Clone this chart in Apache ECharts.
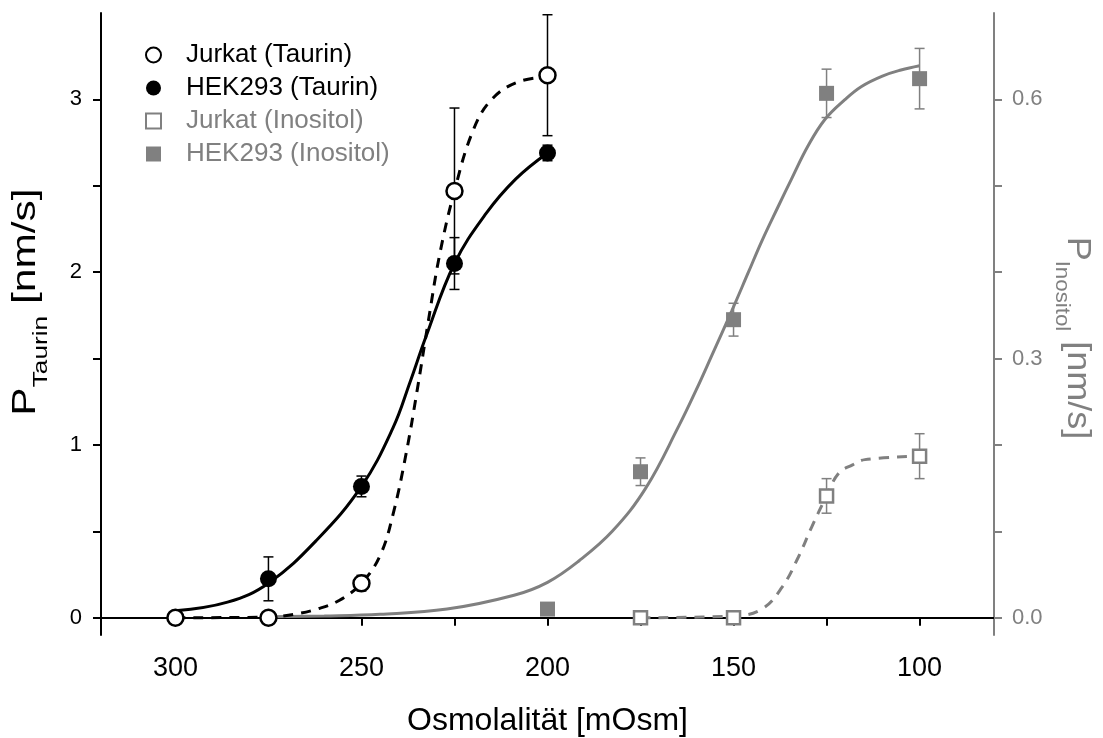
<!DOCTYPE html>
<html>
<head>
<meta charset="utf-8">
<script src="https://cdn.jsdelivr.net/npm/echarts@6/dist/echarts.min.js"></script>
<style>
  html, body { margin: 0; padding: 0; background: #fff; }
  #chart { width: 1103px; height: 738px; }
</style>
</head>
<body>
<div id="chart"></div>
<script>
// Osmolality steps (mOsm) and permeability values
const xTickValues = [100, 125, 150, 175, 200, 225, 250, 275, 300];
const xLabelValues = [100, 150, 200, 250, 300];
const yLeftTicks = [0, 0.5, 1, 1.5, 2, 2.5, 3];
const yLeftLabels = [0, 1, 2, 3];
const yRightTicks = [0, 0.1, 0.2, 0.3, 0.4, 0.5, 0.6];
const yRightLabels = [0, 0.3, 0.6];

// Taurin (left axis, nm/s)
const jurkatTaurinX = [300, 275, 250, 225, 200];
const jurkatTaurinY = [0, 0, 0.20, 2.47, 3.14];
const jurkatTaurinErr = [0, 0, 0.045, 0.48, 0.35];
const hekTaurinX = [300, 275, 250, 225, 200];
const hekTaurinY = [0, 0.225, 0.76, 2.05, 2.69];
const hekTaurinErr = [0, 0.127, 0.06, 0.15, 0.045];

// Inositol (right axis, nm/s)
const jurkatInositolX = [175, 150, 125, 100];
const jurkatInositolY = [0, 0, 0.141, 0.187];
const jurkatInositolErr = [0, 0, 0.02, 0.026];
const hekInositolX = [200, 175, 150, 125, 100];
const hekInositolY = [0.010, 0.169, 0.345, 0.607, 0.624];
const hekInositolErr = [0, 0.016, 0.019, 0.028, 0.035];

// Fitted curves
const hekTaurinFitX = [300, 286, 275, 262, 250, 241.5, 237, 232.6, 225, 216.5, 208.5, 200];
const hekTaurinFitY = [0.04, 0.09, 0.20, 0.45, 0.76, 1.10, 1.36, 1.63, 2.05, 2.34, 2.54, 2.69];
const jurkatTaurinFitX = [300, 275, 268, 262, 256, 250, 245, 241.5, 238, 235, 232, 229, 225, 220, 215, 208, 200];
const jurkatTaurinFitY = [0, 0.003, 0.02, 0.05, 0.10, 0.20, 0.36, 0.60, 0.95, 1.32, 1.72, 2.10, 2.47, 2.82, 3.00, 3.10, 3.13];
const hekInositolFitX = [275, 260, 245, 227, 209, 200, 191.5, 182.6, 173.6, 164.7, 160, 155.8, 150.5, 146, 142.4, 138, 134.4, 130, 125.4, 120, 115.6, 110, 105, 100];
const hekInositolFitY = [0.001, 0.002, 0.004, 0.010, 0.026, 0.041, 0.066, 0.100, 0.150, 0.222, 0.264, 0.304, 0.355, 0.400, 0.436, 0.476, 0.508, 0.546, 0.577, 0.600, 0.615, 0.627, 0.634, 0.639];
const jurkatInositolFitX = [175, 150, 142.4, 137, 132.6, 129, 125, 121.8, 118, 114.7, 100];
const jurkatInositolFitY = [0, 0.002, 0.010, 0.035, 0.070, 0.105, 0.141, 0.167, 0.177, 0.183, 0.187];

const BLACK = '#000000';
const GRAY = '#808080';
const FONT = "'Liberation Sans', Arial, Helvetica, sans-serif";

const pairs = (xs, ys) => xs.map((x, i) => [x, ys[i]]);
const errRows = (xs, ys, es) => xs.map((x, i) => [x, ys[i] - es[i], ys[i] + es[i]]).filter((r, i) => es[i] > 0);

function errorBars(color) {
  return function (params, api) {
    const x = api.value(0);
    const lo = api.coord([x, api.value(1)]);
    const hi = api.coord([x, api.value(2)]);
    const half = 5;
    const st = { stroke: color, lineWidth: 1.5 };
    return {
      type: 'group',
      children: [
        { type: 'line', shape: { x1: hi[0], y1: hi[1], x2: lo[0], y2: lo[1] }, style: st },
        { type: 'line', shape: { x1: hi[0] - half, y1: hi[1], x2: hi[0] + half, y2: hi[1] }, style: st },
        { type: 'line', shape: { x1: lo[0] - half, y1: lo[1], x2: lo[0] + half, y2: lo[1] }, style: st }
      ]
    };
  };
}

function axisTitle(main, sub, color) {
  return {
    text: '{p|' + main + '}{s|' + sub + '}{p| [nm/s]}',
    fill: color, align: 'center', verticalAlign: 'middle',
    rich: {
      p: { fontSize: 34, fontFamily: FONT, fill: color, verticalAlign: 'top' },
      s: { fontSize: 21, fontFamily: FONT, fill: color, verticalAlign: 'top', padding: [22, 0, 0, 0] }
    }
  };
}

const chart = echarts.init(document.getElementById('chart'), null, { renderer: 'canvas' });

const option = {
  animation: false,
  backgroundColor: '#ffffff',
  textStyle: { fontFamily: FONT },
  grid: { left: 101, right: 109, top: 13, bottom: 103, containLabel: false, outerBoundsMode: 'none' },
  legend: {
    orient: 'vertical',
    left: 140,
    top: 37,
    itemWidth: 15,
    itemHeight: 15,
    itemGap: 7,
    textStyle: { fontSize: 26, fontFamily: FONT, padding: [0, 0, 0, 20] },
    data: [
      { name: 'Jurkat (Taurin)', textStyle: { color: BLACK } },
      { name: 'HEK293 (Taurin)', textStyle: { color: BLACK } },
      { name: 'Jurkat (Inositol)', textStyle: { color: GRAY } },
      { name: 'HEK293 (Inositol)', textStyle: { color: GRAY } }
    ]
  },
  xAxis: [
    {
      type: 'value', position: 'bottom', min: 80, max: 320, inverse: true,
      name: 'Osmolalität [mOsm]', nameLocation: 'middle', nameGap: 70,
      nameTextStyle: { fontSize: 32, color: BLACK, fontFamily: FONT },
      axisLine: { show: true, lineStyle: { color: BLACK, width: 2 } },
      axisTick: { show: true, inside: false, length: 8, customValues: xTickValues, lineStyle: { color: BLACK, width: 2 } },
      axisLabel: { show: true, customValues: xLabelValues, fontSize: 27, color: BLACK, margin: 20, fontFamily: FONT },
      splitLine: { show: false }
    },
    {
      type: 'value', position: 'top', min: 80, max: 320, inverse: true,
      axisLine: { show: true, lineStyle: { color: BLACK, width: 2 } },
      axisTick: { show: true, inside: true, length: 6, customValues: xTickValues, lineStyle: { color: BLACK, width: 1.5 } },
      axisLabel: { show: false },
      splitLine: { show: false }
    }
  ],
  yAxis: [
    {
      type: 'value', position: 'left', min: -0.1, max: 3.5,
      axisLine: { show: true, lineStyle: { color: BLACK, width: 2 } },
      axisTick: { show: true, inside: false, length: 8, customValues: yLeftTicks, lineStyle: { color: BLACK, width: 2 } },
      axisLabel: { show: true, customValues: yLeftLabels, fontSize: 22, color: BLACK, margin: 19, fontFamily: FONT,
        formatter: v => String(Math.round(v)) },
      splitLine: { show: false }
    },
    {
      type: 'value', position: 'right', min: -0.02, max: 0.7,
      axisLine: { show: true, lineStyle: { color: GRAY, width: 2 } },
      axisTick: { show: true, inside: false, length: 8, customValues: yRightTicks, lineStyle: { color: GRAY, width: 2 } },
      axisLabel: { show: true, customValues: yRightLabels, fontSize: 22, color: GRAY, margin: 18, fontFamily: FONT,
        formatter: v => v.toFixed(1) },
      splitLine: { show: false }
    }
  ],
  graphic: [
    { type: 'text', x: 30, y: 302, rotation: Math.PI / 2, scaleX: 1.25, style: axisTitle('P', 'Taurin', BLACK) },
    { type: 'text', x: 1073, y: 338, rotation: -Math.PI / 2, scaleX: 1.06, style: axisTitle('P', 'Inositol', GRAY) }
  ],
  series: [
    // fitted curves
    {
      name: 'fit HEK293 Inositol', type: 'line', xAxisIndex: 0, yAxisIndex: 1, z: 2,
      data: pairs(hekInositolFitX, hekInositolFitY), smooth: 0.4,
      showSymbol: false, lineStyle: { color: GRAY, width: 3 }
    },
    {
      name: 'fit Jurkat Inositol', type: 'line', xAxisIndex: 0, yAxisIndex: 1, z: 2,
      data: pairs(jurkatInositolFitX, jurkatInositolFitY), smooth: 0.4,
      showSymbol: false, lineStyle: { color: GRAY, width: 3, type: [10, 8] }
    },
    {
      name: 'fit HEK293 Taurin', type: 'line', xAxisIndex: 0, yAxisIndex: 0, z: 3,
      data: pairs(hekTaurinFitX, hekTaurinFitY), smooth: 0.4,
      showSymbol: false, lineStyle: { color: BLACK, width: 3 }
    },
    {
      name: 'fit Jurkat Taurin', type: 'line', xAxisIndex: 0, yAxisIndex: 0, z: 3,
      data: pairs(jurkatTaurinFitX, jurkatTaurinFitY), smooth: 0.4,
      showSymbol: false, lineStyle: { color: BLACK, width: 3, type: [10, 8] }
    },
    // error bars
    {
      name: 'err Jurkat Taurin', type: 'custom', xAxisIndex: 0, yAxisIndex: 0, z: 4,
      renderItem: errorBars(BLACK), encode: { x: 0, y: [1, 2] },
      data: errRows(jurkatTaurinX, jurkatTaurinY, jurkatTaurinErr)
    },
    {
      name: 'err HEK293 Taurin', type: 'custom', xAxisIndex: 0, yAxisIndex: 0, z: 4,
      renderItem: errorBars(BLACK), encode: { x: 0, y: [1, 2] },
      data: errRows(hekTaurinX, hekTaurinY, hekTaurinErr)
    },
    {
      name: 'err Jurkat Inositol', type: 'custom', xAxisIndex: 0, yAxisIndex: 1, z: 4,
      renderItem: errorBars(GRAY), encode: { x: 0, y: [1, 2] },
      data: errRows(jurkatInositolX, jurkatInositolY, jurkatInositolErr)
    },
    {
      name: 'err HEK293 Inositol', type: 'custom', xAxisIndex: 0, yAxisIndex: 1, z: 4,
      renderItem: errorBars(GRAY), encode: { x: 0, y: [1, 2] },
      data: errRows(hekInositolX, hekInositolY, hekInositolErr)
    },
    // measured points
    {
      name: 'HEK293 (Inositol)', type: 'scatter', xAxisIndex: 0, yAxisIndex: 1, z: 5,
      data: pairs(hekInositolX, hekInositolY), symbol: 'rect', symbolSize: 15,
      itemStyle: { color: GRAY, opacity: 1 }
    },
    {
      name: 'Jurkat (Inositol)', type: 'scatter', xAxisIndex: 0, yAxisIndex: 1, z: 5,
      data: pairs(jurkatInositolX, jurkatInositolY), symbol: 'rect', symbolSize: 13,
      itemStyle: { color: '#ffffff', borderColor: GRAY, borderWidth: 2.5, opacity: 1 }
    },
    {
      name: 'HEK293 (Taurin)', type: 'scatter', xAxisIndex: 0, yAxisIndex: 0, z: 6,
      data: pairs(hekTaurinX, hekTaurinY), symbol: 'circle', symbolSize: 17,
      itemStyle: { color: BLACK, opacity: 1 }
    },
    {
      name: 'Jurkat (Taurin)', type: 'scatter', xAxisIndex: 0, yAxisIndex: 0, z: 6,
      data: pairs(jurkatTaurinX, jurkatTaurinY), symbol: 'circle', symbolSize: 16,
      itemStyle: { color: '#ffffff', borderColor: BLACK, borderWidth: 2.5, opacity: 1 }
    }
  ]
};

chart.setOption(option);
</script>
</body>
</html>
